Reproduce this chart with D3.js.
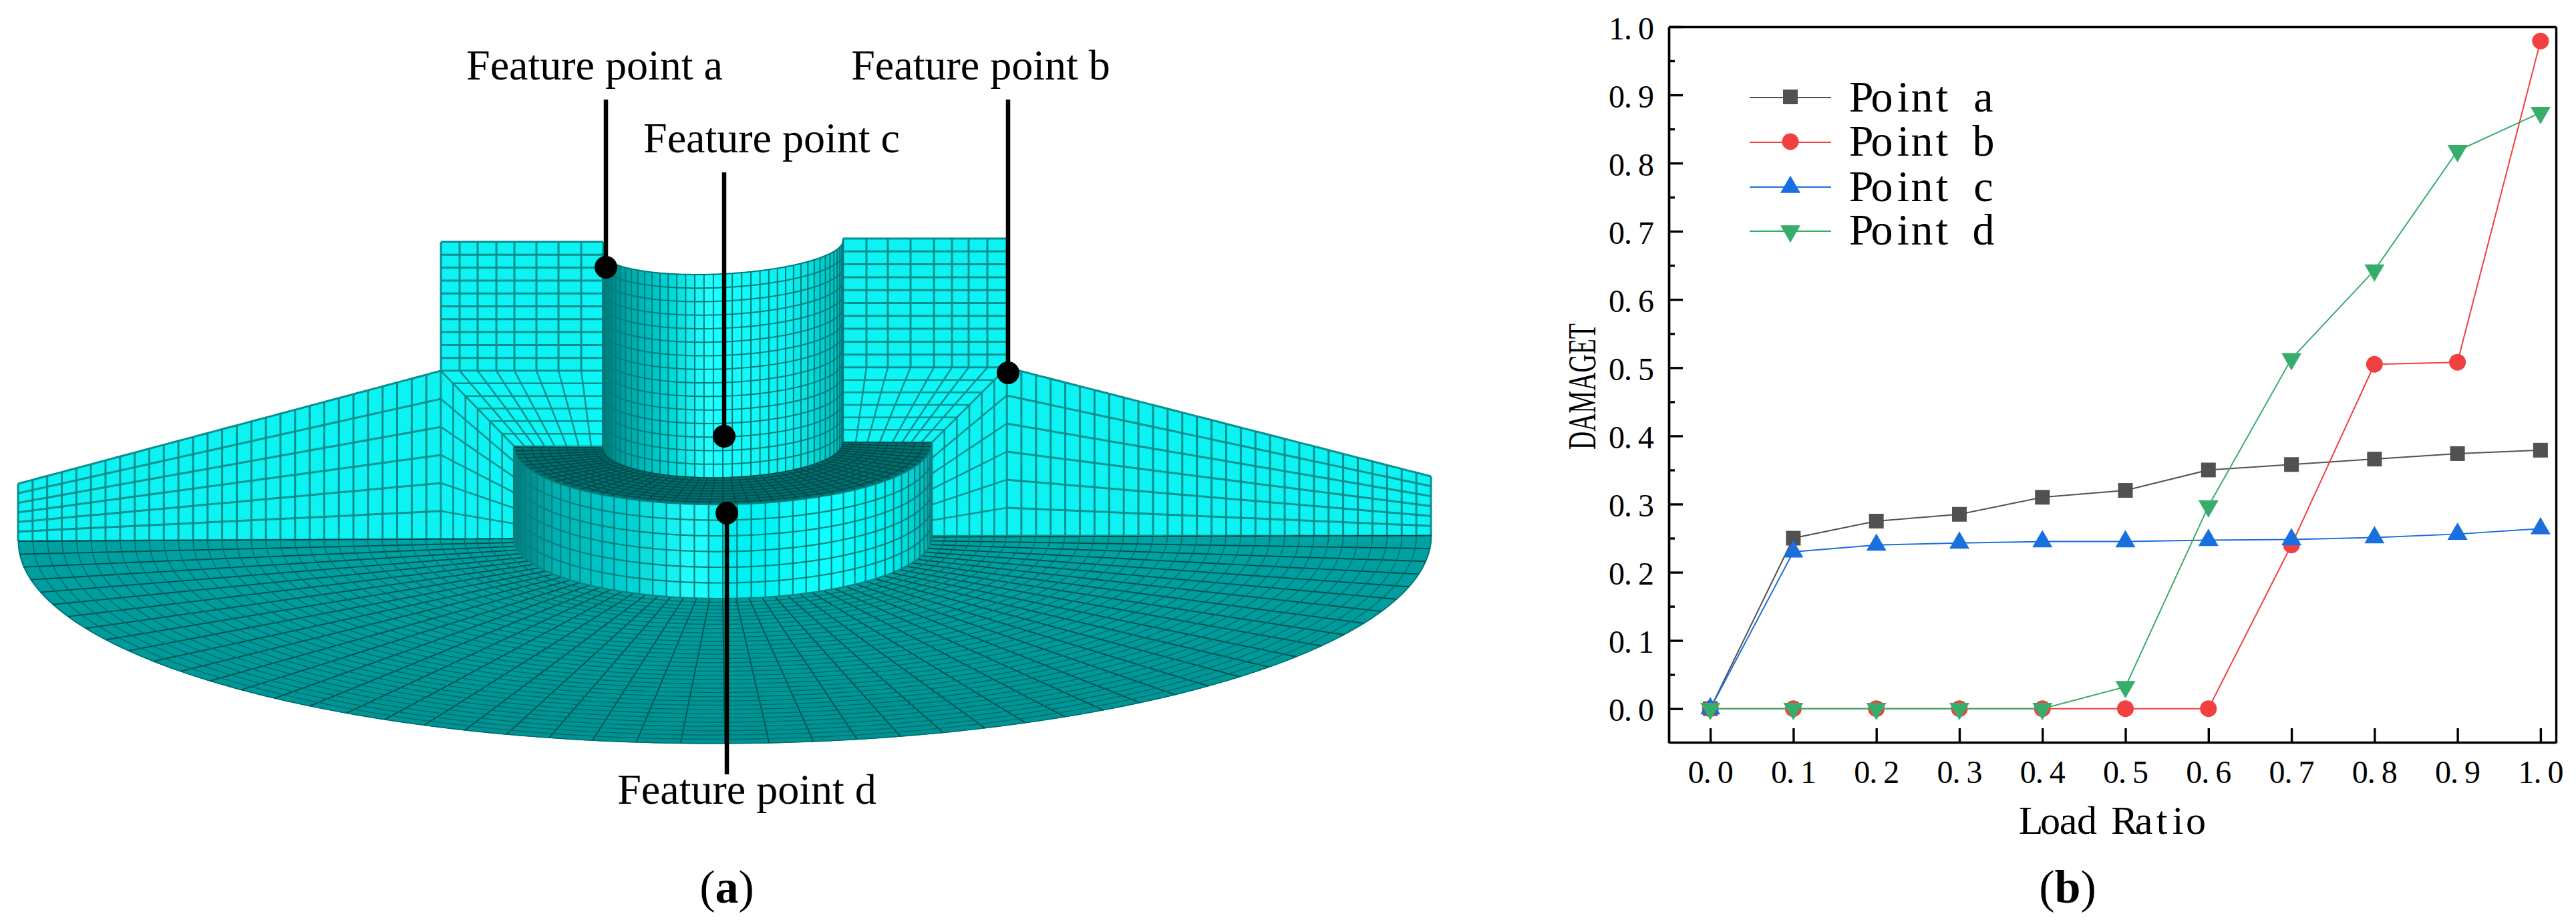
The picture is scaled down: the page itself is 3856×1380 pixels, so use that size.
<!DOCTYPE html>
<html><head><meta charset="utf-8">
<script src="https://cdn.jsdelivr.net/npm/d3@7"></script>
<style>html,body{margin:0;background:#fff}svg{display:block}text{font-family:"Liberation Serif",serif;fill:#000}</style>
</head><body><svg id="c" width="3856" height="1380" viewBox="0 0 3856 1380"></svg>
<script>
// ---- chart (b) values ----
const loadRatio=[0,0.1,0.2,0.3,0.4,0.5,0.6,0.7,0.8,0.9,1.0];
const pointA=[0,0.25,0.275,0.285,0.31,0.32,0.35,0.358,0.366,0.374,0.379];
const pointB=[0,0,0,0,0,0,0,0.24,0.505,0.508,0.979];
const pointC=[0,0.23,0.24,0.243,0.245,0.245,0.247,0.248,0.251,0.256,0.264];
const pointD=[0,0,0,0,0,0.032,0.297,0.513,0.643,0.818,0.874];
const seriesNames=["Point a","Point b","Point c","Point d"];
const seriesColors=["#515151","#F14040","#1A6FDF","#37AD6B"];
const yMajor=[0,0.1,0.2,0.3,0.4,0.5,0.6,0.7,0.8,0.9,1.0];
const yMinor=[0.05,0.15,0.25,0.35,0.45,0.55,0.65,0.75,0.85,0.95];
// ---- figure (a) labels ----
const featureLabels=["Feature point a","Feature point b","Feature point c","Feature point d"];

const svg=d3.select("#c");
const cv=document.createElement("canvas").getContext("2d");
function charCenters(ctx,str,centers,size,weight){
  ctx.font=(weight||"")+" "+size+'px "Liberation Serif"';
  return str.split("").map((ch,i)=>centers[i]-ctx.measureText(ch).width/2).join(" ");
}
// ========== panel (a): FE mesh ==========
const mesh=svg.append("g").attr("filter","url(#soft)");
svg.append("defs").append("filter").attr("id","soft").append("feGaussianBlur").attr("stdDeviation",0.7);
const line=d3.line();
const lerp=(a,b,t)=>a+(b-a)*t;
const LIGHT="#0cf2f2",LS="#078f8f";
function quad(p00,p10,p01,p11){return (u,v)=>[lerp(lerp(p00[0],p10[0],u),lerp(p01[0],p11[0],u),v),lerp(lerp(p00[1],p10[1],u),lerp(p01[1],p11[1],u),v)];}
function outline(f,n){const p=[];d3.range(n+1).forEach(i=>p.push(f(i/n,0)));d3.range(n+1).forEach(i=>p.push(f(1,i/n)));d3.range(n+1).forEach(i=>p.push(f(1-i/n,1)));d3.range(n+1).forEach(i=>p.push(f(0,1-i/n)));return p;}
function patch(f,us,vs,fill,stroke,sw,stroke2,sw2,n){
  n=n||60;
  mesh.append("path").attr("d",line(outline(f,n))+"Z").attr("fill",fill).attr("stroke",fill).attr("stroke-width",1);
  const g=mesh.append("g").attr("fill","none");
  g.selectAll(null).data(us).join("path").attr("d",u=>line(d3.range(n+1).map(i=>f(u,i/n)))).attr("stroke",stroke).attr("stroke-width",sw);
  g.selectAll(null).data(vs).join("path").attr("d",v=>line(d3.range(n+1).map(i=>f(i/n,v)))).attr("stroke",stroke2||stroke).attr("stroke-width",sw2||sw);
}
const unit=n=>d3.range(n+1).map(i=>i/n);
const norm=a=>a.map(x=>(x-a[0])/(a[a.length-1]-a[0]));
// wall columns
const leftRectX=[660,688,715,743,770,803,836,870,903];
const rightRectX=[1262,1297,1329,1363,1398,1425,1450,1478,1507];
// far walls
patch(quad([27,724],[660,555],[27,810],[660,807]),unit(29),unit(6),LIGHT,LS,3);
patch(quad([1507,550],[2142,713],[1507,802],[2142,802]),unit(29),unit(6),LIGHT,LS,3);
// fold transitions
patch(quad([660,555],[770,668],[660,807],[770,807]),unit(6),unit(6),LIGHT,LS,2.5);
patch(quad([1395,662],[1507,550],[1395,802],[1507,802]),unit(6),unit(6),LIGHT,LS,2.5);
// upper rectangles
patch(quad([660,362],[903,362],[660,555],[903,555]),norm(leftRectX),unit(10),LIGHT,LS,3);
patch(quad([1262,357],[1507,357],[1262,550],[1507,550]),norm(rightRectX),unit(10),LIGHT,LS,3);
// flange slopes
patch(quad([660,555],[903,555],[770,668],[903,668]),norm(leftRectX),unit(6),"#0ef6f6",LS,2.5);
patch(quad([1262,550],[1507,550],[1262,662],[1395,662]),norm(rightRectX),unit(6),"#0ef6f6",LS,2.5);
// ellipse helpers
function arc(cx,rx,cy,ry,tilt){return t=>{const x=cx+rx*Math.cos(t);return [x,cy+ry*Math.sin(t)-(x-cx)*tilt];};}
function band(a,b){return (u,v)=>{const t=Math.PI*u,p=a(t),q=b(t);return [lerp(p[0],q[0],v),lerp(p[1],q[1],v)];};}
// base annulus
const baseFill=mesh.append("defs").append("linearGradient").attr("id","bf").attr("x1",0).attr("x2",0).attr("y1",0).attr("y2",1);
baseFill.append("stop").attr("offset",0).attr("stop-color","#00a2a2");
baseFill.append("stop").attr("offset",1).attr("stop-color","#009292");
const ringS=[...d3.range(0,6).map(i=>i*18.5/743),...d3.range(0,30).map(i=>(110+i*21.8)/743)].map(s=>Math.min(s,1));
patch(band(arc(1082,313,805,91,0.004),arc(1085,1058,806,307,0.004)),unit(50),ringS,"url(#bf)","#005050",1.9,"#006a6a",1.4,160);
// cylinder
const cylShade=d3.scaleLinear().domain([903,940,1000,1060,1110,1180,1262]).range(["#007c7c","#00a8a8","#00d4d4","#24ffff","#14f8f8","#0cf0f0","#00bcbc"]);
const discShade=d3.scaleLinear().domain([770,830,950,1040,1090,1240,1340,1395]).range(["#007c7c","#00b0b0","#00d4d4","#24ffff","#00eeee","#0cffff","#00eaea","#00b4b4"]);
function shaded(f,nu,nv,shade,stroke,sw){
  const g=mesh.append("g");
  g.selectAll(null).data(d3.range(nu)).join("path").attr("d",i=>{
    const a=i/nu,b=(i+1)/nu;
    return line([f(a,0),f(b,0),f(b,1),f(a,1)])+"Z";})
    .attr("fill",i=>shade(f((i+.5)/nu,.5)[0])).attr("stroke",i=>shade(f((i+.5)/nu,.5)[0])).attr("stroke-width",1);
  const h=g.append("g").attr("fill","none").attr("stroke",stroke).attr("stroke-width",sw);
  h.selectAll(null).data(unit(nu)).join("path").attr("d",u=>line([f(u,0),f(u,1)]));
  h.selectAll(null).data(unit(nv)).join("path").attr("d",v=>line(d3.range(121).map(i=>f(i/120,v))));
}
const cylTop=arc(1082,180,369,41,0.05),cylBot=arc(1082,180,666,49,0.022);
shaded(band(cylTop,cylBot),40,15,cylShade,"#067c7c",2);
// raised disc top + side
const discTop=arc(1082,313,666,89,0.01),discBot=arc(1082,313,805,91,0.004);
patch(band(cylBot,discTop),unit(50),unit(10),"#006f6f","#004646",1.6,"#004c4c",1.5,120);
shaded(band(discTop,discBot),46,6,discShade,"#077f7f",2.2);
// leaders & feature dots
const leaders=[[907,149,400],[1509,149,558],[1084,258,653],[1088,1159,768]];
svg.append("g").selectAll("line").data(leaders).join("line")
  .attr("x1",d=>d[0]).attr("x2",d=>d[0]).attr("y1",d=>d[1]).attr("y2",d=>d[2])
  .attr("stroke","#000").attr("stroke-width",6.5);
svg.append("g").selectAll("circle").data(leaders).join("circle")
  .attr("cx",d=>d[0]).attr("cy",d=>d[2]).attr("r",17).attr("fill","#000");
const labelPos=[[890,119],[1468,119],[1155,228],[1118,1203]];
svg.append("g").selectAll("text").data(featureLabels).join("text").text(d=>d)
  .attr("x",(d,i)=>labelPos[i][0]).attr("y",(d,i)=>labelPos[i][1])
  .attr("text-anchor","middle").attr("font-size",64);
// panel captions
function caption(letter,x){
  const t=svg.append("text").attr("x",x).attr("y",1351).attr("text-anchor","middle").attr("font-size",70);
  t.append("tspan").text("(");t.append("tspan").attr("font-weight","bold").text(letter);t.append("tspan").text(")");
}
caption("a",1088);caption("b",3095);

// ========== panel (b): line chart ==========
const x=d3.scaleLinear().domain([-0.05,1.0186]).range([2498,3826]);
const y=d3.scaleLinear().domain([-0.05,1]).range([1111.7,40]);
const ax=svg.append("g").attr("stroke-width",3);
const gL=ax.append("g").attr("transform","translate(2498,0)").call(d3.axisLeft(y).tickValues(yMajor).tickSize(-21).tickSizeOuter(0).tickPadding(0).tickFormat(d3.format(".1f")));
ax.append("g").attr("transform","translate(2498,0)").call(d3.axisLeft(y).tickValues(yMinor).tickSize(-9).tickSizeOuter(0).tickFormat(""));
const gB=ax.append("g").attr("transform","translate(0,1111)").call(d3.axisBottom(x).tickValues(loadRatio).tickSize(-21).tickSizeOuter(0).tickFormat(d3.format(".1f")));
ax.append("g").attr("transform","translate(0,40)").call(d3.axisTop(x).tickValues([]).tickSizeOuter(0));
ax.append("g").attr("transform","translate(3826,0)").call(d3.axisRight(y).tickValues([]).tickSizeOuter(0));
ax.selectAll(".domain,line").attr("stroke-width",3.4).attr("stroke","#000");
ax.selectAll("text").attr("font-family",'"Liberation Serif"').attr("fill","#000");
gL.selectAll(".tick text").attr("font-size",48).attr("text-anchor","start").attr("dy",null).attr("y",18)
  .attr("x",function(){return charCenters(cv,this.textContent,[2420-2498,2437-2498,2464-2498],48);});
gB.selectAll(".tick text").attr("font-size",48).attr("text-anchor","start").attr("dy",null).attr("y",1172-1111)
  .attr("x",function(){return charCenters(cv,this.textContent,[-22,-5,22],48);});
// axis titles
const loadTitle="Load Ratio";
svg.append("text").text(loadTitle).attr("font-size",60).attr("y",1248)
  .attr("x",charCenters(cv,loadTitle,[3040,3069,3096,3124,3152,3180,3209,3236,3260,3287],60));
svg.append("text").text("DAMAGET").attr("font-size",60).attr("text-anchor","start")
  .attr("transform","translate(2388,673) rotate(-90) scale(0.63,1)");
// series
const allSeries=[pointA,pointB,pointC,pointD];
const symbols=[{t:d3.symbolSquare,s:484,r:0},{t:d3.symbolCircle,s:491,r:0},{t:d3.symbolTriangle,s:390,r:0},{t:d3.symbolTriangle,s:390,r:180}];
const lineGen=d3.line().x((d,i)=>x(loadRatio[i])).y(d=>y(d));
const plot=svg.append("g");
allSeries.forEach((vals,k)=>{
  plot.append("path").attr("d",lineGen(vals)).attr("fill","none").attr("stroke",seriesColors[k]).attr("stroke-width",2);
  plot.append("g").selectAll("path").data(vals).join("path")
    .attr("d",d3.symbol().type(symbols[k].t).size(symbols[k].s))
    .attr("transform",(d,i)=>`translate(${x(loadRatio[i])},${y(d)}) rotate(${symbols[k].r})`)
    .attr("fill",seriesColors[k]);
});
// legend
const legendLineY=[146,213,280,346],legendTextY=[167,233,301,366];
const lg=svg.append("g");
seriesNames.forEach((name,k)=>{
  lg.append("line").attr("x1",2619).attr("x2",2741).attr("y1",legendLineY[k]).attr("y2",legendLineY[k]).attr("stroke",seriesColors[k]).attr("stroke-width",2);
  lg.append("path").attr("d",d3.symbol().type(symbols[k].t).size(symbols[k].s)())
    .attr("transform",`translate(2680,${legendLineY[k]+[-1,-1,0,0][k]}) rotate(${symbols[k].r})`).attr("fill",seriesColors[k]);
  const cx=[2786,2817,2849,2877,2907,2937,2969];
  lg.append("text").text(name).attr("font-size",66).attr("y",legendTextY[k]).attr("x",charCenters(cv,name,cx,66));
});
</script></body></html>
